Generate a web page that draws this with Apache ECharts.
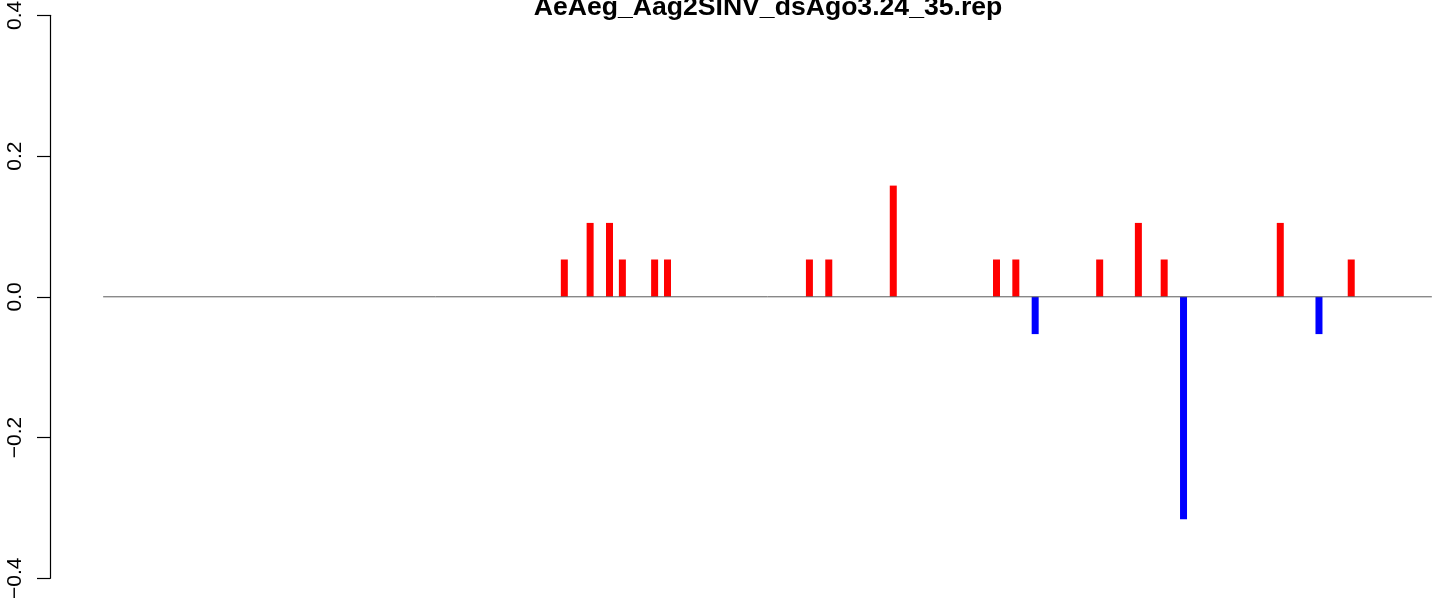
<!DOCTYPE html>
<html>
<head>
<meta charset="utf-8">
<script src="https://cdn.jsdelivr.net/npm/echarts@6/dist/echarts.min.js"></script>
<style>
  html, body { margin: 0; padding: 0; background: #fff; }
  #main { width: 1433px; height: 603px; }
</style>
</head>
<body>
<div id="main"></div>
<script>
// positions along the read (1..206) and read-off heights
const positions = [72, 76, 79, 81, 86, 88, 110, 113, 123, 139, 142, 145, 155, 161, 165, 168, 183, 189, 194];
const values = [0.053, 0.105, 0.105, 0.053, 0.053, 0.053, 0.053, 0.053, 0.158, 0.053, 0.053, -0.053, 0.053, 0.105, 0.053, -0.316, 0.105, -0.053, 0.053];
const yTicks = [-0.4, -0.2, 0.0, 0.2, 0.4];
const seqStart = 0.5;
const seqEnd = 206.5;

const chartDom = document.getElementById('main');
const myChart = echarts.init(chartDom);

const plus = [];
const minus = [];
positions.forEach((p, i) => {
  if (values[i] >= 0) plus.push([p, values[i]]);
  else minus.push([p, values[i]]);
});

// R style axis range: 4% padding each side
const pad = (seqEnd - seqStart) * 0.04;

const option = {
  animation: false,
  title: {
    text: 'AeAeg_Aag2SINV_dsAgo3.24_35.rep',
    left: 763,
    textAlign: 'center',
    top: -10,
    textStyle: {
      fontFamily: 'Liberation Sans, Arial, sans-serif',
      fontWeight: 'bold',
      fontSize: 26.6,
      lineHeight: 26,
      color: '#000'
    }
  },
  grid: {
    left: 50,
    top: 15.3,
    bottom: 24.7,
    width: 1435,
    outerBoundsMode: 'none'
  },
  xAxis: {
    type: 'value',
    min: seqStart - pad,
    max: seqEnd + pad,
    show: false
  },
  yAxis: {
    type: 'value',
    min: yTicks[0],
    max: yTicks[yTicks.length - 1],
    interval: 0.2,
    splitLine: { show: false },
    axisLine: { show: true, onZero: false, lineStyle: { color: '#000', width: 1.2 } },
    axisTick: { show: true, length: 13, lineStyle: { color: '#000', width: 1.2 } },
    axisLabel: {
      rotate: 90,
      margin: 24,
      fontFamily: 'Liberation Sans, Arial, sans-serif',
      fontSize: 21,
      color: '#000',
      formatter: v => (v < 0 ? '\u2212' : '') + Math.abs(v).toFixed(1)
    }
  },
  series: [
    {
      type: 'bar',
      data: plus,
      barWidth: 7,
      barGap: '-100%',
      itemStyle: { color: '#ff0000' }
    },
    {
      type: 'bar',
      data: minus,
      barWidth: 7,
      barGap: '-100%',
      itemStyle: { color: '#0000ff' }
    },
    {
      type: 'line',
      data: [[seqStart, 0], [seqEnd, 0]],
      symbol: 'none',
      z: 5,
      lineStyle: { color: '#5a5a5a', width: 1 }
    }
  ]
};

option && myChart.setOption(option);
</script>
</body>
</html>
